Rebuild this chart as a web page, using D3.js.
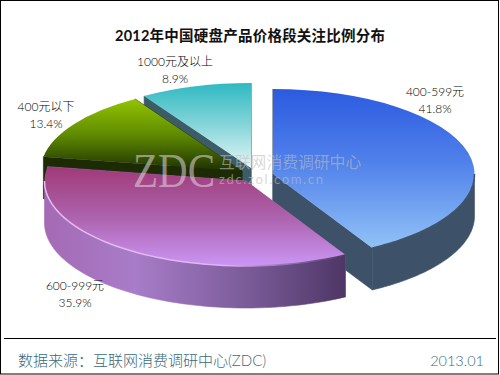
<!DOCTYPE html>
<html>
<head>
<meta charset="utf-8">
<script src="https://cdn.jsdelivr.net/npm/d3@7"></script>
<style>
  html, body { margin: 0; padding: 0; background: #fff; }
  svg { display: block; }
  text { font-family: Lato, "Noto Sans CJK SC", sans-serif; }
</style>
</head>
<body>
<script>
const title = '2012年中国硬盘产品价格段关注比例分布';
const source = '数据来源：互联网消费调研中心(ZDC)';
const dateLabel = '2013.01';

const categories = ['400-599元', '600-999元', '400元以下', '1000元及以上'];
const shares = [41.8, 35.9, 13.4, 8.9];

const width = 500,
  height = 375;

const rx = 201.5,
  ry = 85,
  depth = 42;

// where each exploded slice has its centre
const centres = [[273, 174], [246, 181], [242, 171], [251, 168]];
const labelPos = [[435, 96], [75, 290], [46, 111], [175, 66]];

const topStops = [
  [['0%', '#2c5ae0'], ['45%', '#4f80ea'], ['100%', '#92c2f7']],
  [['0%', '#a03a78'], ['50%', '#ac62ac'], ['100%', '#cb95f4']],
  [['0%', '#93c400'], ['50%', '#5f8a00'], ['100%', '#1e3000']],
  [['0%', '#2fb9c2'], ['50%', '#86d6da'], ['100%', '#e6f6f6']]
];
const sideStops = [
  [['0%', '#3d5269'], ['100%', '#3d5269']],
  [['0%', '#a56ab4'], ['30%', '#a87cc8'], ['65%', '#7d5e9c'], ['100%', '#4e3666']],
  [['0%', '#1c2a06'], ['100%', '#1c2a06']],
  [['0%', '#3c5c68'], ['100%', '#3c5c68']]
];
const rimStops = [
  [['0%', '#3d5269'], ['100%', '#3d5269']],
  [['0%', '#e6bcf6'], ['60%', '#e0b4f4'], ['100%', '#4e3666']]
];

const svg = d3.select('body').append('svg')
  .attr('width', width)
  .attr('height', height);

const defs = svg.append('defs');

function gradient(id, stops, horizontal) {
  const g = defs.append('linearGradient')
    .attr('id', id)
    .attr('x1', 0).attr('y1', 0)
    .attr('x2', horizontal ? 1 : 0).attr('y2', horizontal ? 0 : 1);
  stops.forEach(s => g.append('stop').attr('offset', s[0]).attr('stop-color', s[1]));
}
topStops.forEach((s, i) => gradient('top' + i, s, false));
sideStops.forEach((s, i) => gradient('side' + i, s, true));
rimStops.forEach((s, i) => gradient('rim' + i, s, true));

defs.append('filter').attr('id', 'soft')
  .attr('x', '-5%').attr('y', '-5%').attr('width', '110%').attr('height', '110%')
  .append('feGaussianBlur').attr('stdDeviation', 0.7);

svg.append('rect')
  .attr('x', 0.5).attr('y', 0.5)
  .attr('width', 498).attr('height', 373.5)
  .attr('fill', '#fff')
  .attr('stroke', '#000');

const pie = d3.pie().sort(null).value(d => d);
const slices = pie(shares);

const arc = d3.arc().innerRadius(0).outerRadius(rx);
const line = d3.line();

// point on the rim of a slice, relative to its centre
const rim = a => [rx * Math.sin(a), -ry * Math.cos(a)];

function rimAngles(d) {
  const from = Math.max(d.startAngle, Math.PI / 2),
    to = Math.min(d.endAngle, Math.PI * 3 / 2);
  if (to <= from) return null;
  return d3.range(0, 61).map(k => from + (to - from) * k / 60);
}

function rimWall(d) {
  const angles = rimAngles(d);
  if (!angles) return null;
  const upper = angles.map(rim);
  const lower = angles.map(rim).map(p => [p[0], p[1] + depth]).reverse();
  return line(upper.concat(lower)) + 'Z';
}

function cutWall(a) {
  const p = rim(a);
  return line([[0, 0], p, [p[0], p[1] + depth], [0, depth]]) + 'Z';
}

// back to front so the purple slice lies over its neighbours
const drawOrder = [3, 2, 0, 1];

drawOrder.forEach(i => {
  const d = slices[i];
  const g = svg.append('g')
    .attr('transform', `translate(${centres[i][0]},${centres[i][1]})`);

  [d.startAngle, d.endAngle].forEach(a => {
    g.append('path').attr('d', cutWall(a))
      .attr('fill', sideStops[i][0][1])
      .attr('stroke', sideStops[i][0][1])
      .attr('stroke-width', 0.6);
  });

  const wall = rimWall(d);
  if (wall) {
    g.append('path').attr('d', wall)
      .attr('fill', `url(#side${i})`)
      .attr('stroke', `url(#side${i})`)
      .attr('stroke-width', 0.6);
  }

  g.append('path')
    .attr('transform', `scale(1,${ry / rx})`)
    .attr('d', arc(d))
    .attr('fill', `url(#top${i})`);

  // soft edge where the top meets the front wall
  if (wall) {
    g.append('path')
      .attr('d', line(rimAngles(d).map(rim)))
      .attr('fill', 'none')
      .attr('stroke', `url(#rim${i})`)
      .attr('stroke-width', 1.5)
      .attr('filter', 'url(#soft)');
  }
});

// watermark
const mark = svg.append('g');
mark.append('text')
  .attr('x', 133).attr('y', 187)
  .attr('font-size', 48)
  .attr('textLength', 82)
  .attr('lengthAdjust', 'spacingAndGlyphs')
  .style('font-family', '"Liberation Serif", serif')
  .attr('fill', '#e4dce4').attr('fill-opacity', 0.55)
  .text('ZDC');
mark.append('text')
  .attr('x', 219).attr('y', 167.5)
  .attr('font-size', 15.8)
  .attr('fill', '#bdbdbd').attr('fill-opacity', 0.6)
  .text('互联网消费调研中心');
mark.append('text')
  .attr('x', 219).attr('y', 183.5)
  .attr('font-size', 13)
  .attr('textLength', 104)
  .attr('fill', '#bdbdbd').attr('fill-opacity', 0.6)
  .text('zdc.zol.com.cn');

svg.append('text')
  .attr('x', 115).attr('y', 41)
  .attr('font-size', 14.5)
  .attr('font-weight', 'bold')
  .attr('textLength', 270)
  .attr('fill', '#111')
  .text(title);

const labels = svg.append('g')
  .selectAll('text')
  .data(categories)
  .join('text')
  .attr('transform', (d, i) => `translate(${labelPos[i][0]},${labelPos[i][1]})`)
  .attr('text-anchor', 'middle')
  .attr('font-size', 12)
  .attr('font-weight', 300)
  .attr('fill', '#000');
labels.append('tspan').attr('x', 0).text(d => d);
labels.append('tspan').attr('x', 0).attr('dy', 17)
  .text((d, i) => d3.format('.1f')(shares[i]) + '%');

svg.append('line')
  .attr('x1', 4).attr('x2', 496)
  .attr('y1', 338.5).attr('y2', 338.5)
  .attr('stroke', '#000');

svg.append('text')
  .attr('x', 18).attr('y', 366)
  .attr('font-size', 15)
  .attr('font-weight', 300)
  .attr('fill', '#386a7c')
  .text(source);

svg.append('text')
  .attr('x', 484).attr('y', 366)
  .attr('text-anchor', 'end')
  .attr('font-size', 14.5)
  .attr('font-weight', 300)
  .attr('fill', '#386a7c')
  .text(dateLabel);
</script>
</body>
</html>
